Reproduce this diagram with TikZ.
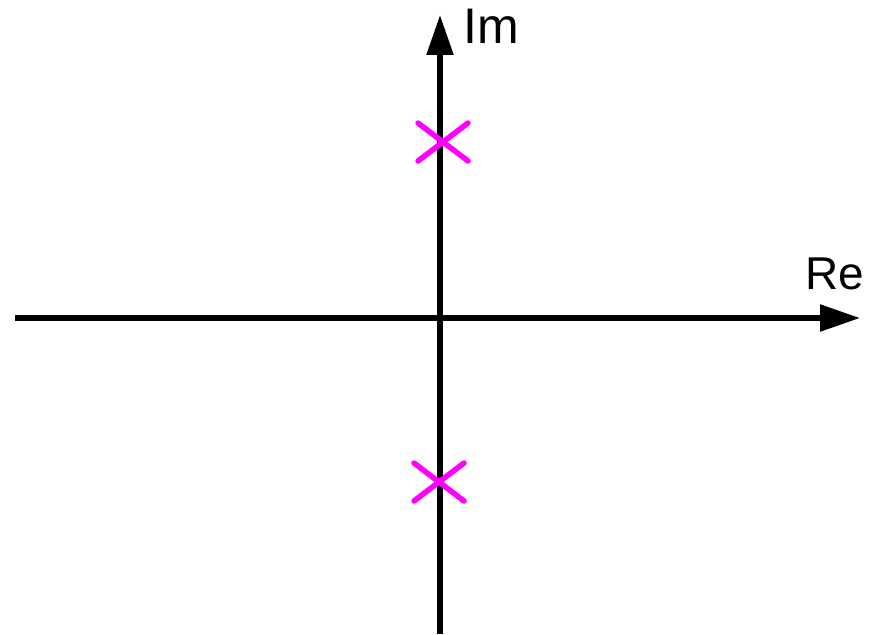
\documentclass[tikz,border=0pt]{standalone}
\usepackage{fontspec}
\setmainfont{Liberation Sans}
\usetikzlibrary{arrows.meta}
\definecolor{polecol}{RGB}{255,0,255}
\begin{document}
\begin{tikzpicture}[x=1pt, y=-1pt,
  axis/.style={line width=5.5pt, -{Triangle[length=40pt, width=26pt]}},
  pole/.style={draw=polecol, line width=5.5pt, line cap=round},
  lbl/.style={inner sep=0pt, anchor=base west}]
  \useasboundingbox (0,0) rectangle (869,634);
  % axes
  \coordinate (xmin) at (15,318);
  \coordinate (xmax) at (860,318);
  \coordinate (ymin) at (440,634);
  \coordinate (ymax) at (440,15);
  \draw[axis] (xmin) -- (xmax);
  \draw[axis] (ymin) -- (ymax);
  \node[lbl, font=\fontsize{50}{50}\selectfont] (im) at (463,44) {Im};
  \node[lbl, font=\fontsize{46}{46}\selectfont] (re) at (805,289) {Re};
  % poles
  \coordinate (p1) at (443,142);
  \coordinate (p2) at (439,482);
  \foreach \p in {p1,p2}
    \draw[pole] ([shift={(-25,-19)}]\p) -- ([shift={(25,19)}]\p)
                ([shift={(-25,19)}]\p) -- ([shift={(25,-19)}]\p);
\end{tikzpicture}
\end{document}
